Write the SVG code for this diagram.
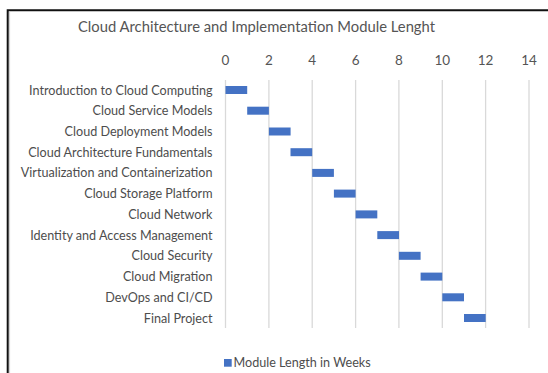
<svg xmlns="http://www.w3.org/2000/svg" width="548" height="373" viewBox="0 0 548 373">
<style>
text{font-family:Lato,"Open Sans","Liberation Sans",sans-serif;fill:#4d4d4d}
.t{font-size:15.5px;fill:#555}
.k{font-size:13.5px;text-anchor:middle;fill:#555}
.l{font-size:12.6px;text-anchor:end}
.g{stroke:#d9d9d9;stroke-width:1.3;fill:none}
.b{fill:#4472c4}
</style>
<rect width="548" height="373" fill="#fff"/>
<path d="M7.7,373V10.3H548" fill="none" stroke="#111" stroke-width="2"/>
<path d="M9.6,373V12" fill="none" stroke="#d0d0d0" stroke-width="1"/>
<text class="t" x="256.5" y="32" text-anchor="middle" textLength="357" lengthAdjust="spacingAndGlyphs">Cloud Architecture and Implementation Module Lenght</text>
<g id="axis">
<g class="g">
<path d="M225.5,80V328"/><path d="M268.9,80V328"/><path d="M312.2,80V328"/><path d="M355.6,80V328"/>
<path d="M398.9,80V328"/><path d="M442.3,80V328"/><path d="M485.6,80V328"/><path d="M529,80V328"/>
</g>
<text class="k" x="225.5" y="65">0</text>
<text class="k" x="268.9" y="65">2</text>
<text class="k" x="312.2" y="65">4</text>
<text class="k" x="355.6" y="65">6</text>
<text class="k" x="398.9" y="65">8</text>
<text class="k" x="442.3" y="65">10</text>
<text class="k" x="485.6" y="65">12</text>
<text class="k" x="529" y="65">14</text>
</g>
<g id="labels">
<text class="l" x="212.5" y="94.5">Introduction to Cloud Computing</text>
<text class="l" x="212.5" y="115.2">Cloud Service Models</text>
<text class="l" x="212.5" y="136">Cloud Deployment Models</text>
<text class="l" x="212.5" y="156.7">Cloud Architecture Fundamentals</text>
<text class="l" x="212.5" y="177.4">Virtualization and Containerization</text>
<text class="l" x="212.5" y="198.1">Cloud Storage Platform</text>
<text class="l" x="212.5" y="218.9">Cloud Network</text>
<text class="l" x="212.5" y="239.6">Identity and Access Management</text>
<text class="l" x="212.5" y="260.3">Cloud Security</text>
<text class="l" x="212.5" y="281.1">Cloud Migration</text>
<text class="l" x="212.5" y="301.8">DevOps and CI/CD</text>
<text class="l" x="212.5" y="322.5">Final Project</text>
</g>
<g id="bars" class="b">
<rect x="225.5" y="86" width="21.7" height="8"/>
<rect x="247.2" y="106.7" width="21.7" height="8"/>
<rect x="268.9" y="127.5" width="21.7" height="8"/>
<rect x="290.5" y="148.2" width="21.7" height="8"/>
<rect x="312.2" y="168.9" width="21.7" height="8"/>
<rect x="333.9" y="189.6" width="21.7" height="8"/>
<rect x="355.6" y="210.4" width="21.7" height="8"/>
<rect x="377.3" y="231.1" width="21.7" height="8"/>
<rect x="398.9" y="251.8" width="21.7" height="8"/>
<rect x="420.6" y="272.6" width="21.7" height="8"/>
<rect x="442.3" y="293.3" width="21.7" height="8"/>
<rect x="464" y="314" width="21.7" height="8"/>
</g>
<g id="legend">
<rect class="b" x="224" y="359" width="7.7" height="7.7"/>
<text x="233.5" y="366.7" font-size="12.6">Module Length in Weeks</text>
</g>
</svg>
